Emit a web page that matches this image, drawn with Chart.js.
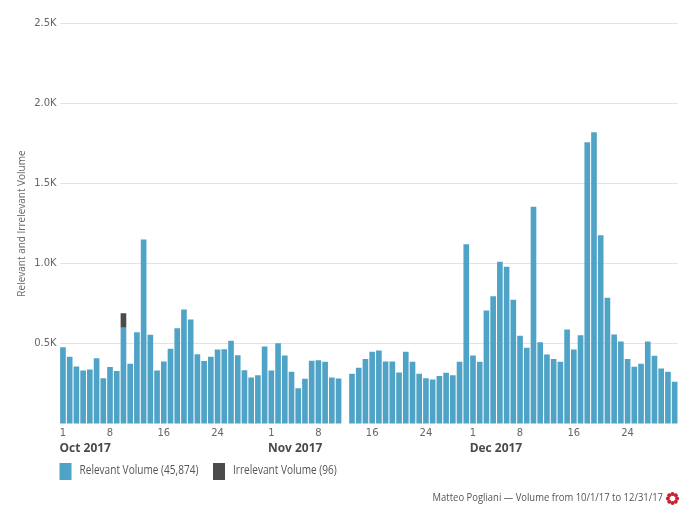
<!DOCTYPE html>
<html>
<head>
<meta charset="utf-8">
<script src="https://cdn.jsdelivr.net/npm/chart.js@4.4.1/dist/chart.umd.min.js"></script>
<style>
  html, body { margin: 0; padding: 0; background: #fff; }
  #wrap { width: 700px; height: 525px; }
</style>
</head>
<body>
<div id="wrap"><canvas id="chart"></canvas></div>
<script>
const months = ['Oct 2017', 'Nov 2017', 'Dec 2017'];
const octRelevant = [479, 419, 358, 333, 340, 410, 286, 356, 331, 600, 375, 572, 1150, 556, 333, 390,
  469, 597, 714, 651, 435, 392, 419, 464, 466, 519, 429, 335, 290, 304, 483];
// no data for Nov 12
const novRelevant = [333, 504, 427, 325, 223, 282, 394, 398, 388, 290, 284, null, 313, 350, 406, 450,
  458, 390, 390, 321, 450, 388, 313, 286, 277, 300, 319, 304, 388, 1120];
const decRelevant = [427, 388, 708, 797, 1011, 980, 774, 550, 475, 1354, 510, 433, 406, 388, 589, 464,
  554, 1757, 1819, 1177, 787, 558, 514, 406, 357, 375, 514, 425, 346, 325, 263];
const irrelevantDays = ['Oct 10'];
const irrelevantValues = [90];
const tickDays = [1, 8, 16, 24];
const legendLabels = ['Relevant Volume (45,874)', 'Irrelevant Volume (96)'];
const axisTitle = 'Relevant and Irrelevant Volume';
const footerText = 'Matteo Pogliani \u2014 Volume from 10/1/17 to 12/31/17';

const BLUE = '#4fa3c7';
const DARK = '#4b4b4b';
const GREY = '#666666';

// one category per calendar day
const labels = [];
const monthStart = [];
const relevant = [];
[octRelevant, novRelevant, decRelevant].forEach((arr, m) => {
  monthStart.push(labels.length);
  arr.forEach((v, i) => {
    labels.push(`${months[m].slice(0, 3)} ${i + 1}`);
    relevant.push(v);
  });
});
const irrelevant = labels.map((l) => {
  const k = irrelevantDays.indexOf(l);
  return k >= 0 ? irrelevantValues[k] : null;
});

// narrow text: no condensed face installed, so squeeze horizontally
function narrowText(ctx, txt, x, y, sx) {
  ctx.save();
  ctx.translate(x, y);
  ctx.scale(sx, 1);
  ctx.fillText(txt, 0, 0);
  ctx.restore();
}

const extras = {
  id: 'extras',
  afterDraw(chart) {
    const { ctx, scales: { x } } = chart;
    const half = (x.getPixelForValue(1) - x.getPixelForValue(0)) / 2;
    ctx.save();
    ctx.textBaseline = 'middle';
    ctx.textAlign = 'left';

    // month names under the day ticks
    ctx.fillStyle = '#4a4a4a';
    ctx.font = 'bold 13px "Open Sans"';
    monthStart.forEach((idx, m) => {
      narrowText(ctx, months[m], x.getPixelForValue(idx) - half, 448, 0.92);
    });

    // legend
    const colors = [BLUE, DARK];
    const swatchX = [59.5, 213];
    ctx.font = '12px "Open Sans"';
    legendLabels.forEach((txt, i) => {
      ctx.fillStyle = colors[i];
      ctx.fillRect(swatchX[i], 463, 12, 17);
      ctx.fillStyle = '#555';
      narrowText(ctx, txt, swatchX[i] + 20, 471, 0.84);
    });

    // footer + logo
    ctx.font = '11px "Open Sans"';
    ctx.textAlign = 'right';
    ctx.fillStyle = '#555';
    narrowText(ctx, footerText, 663, 498, 0.86);
    ctx.fillStyle = '#c9202f';
    for (let k = 0; k < 8; k += 1) {
      const a = (Math.PI * 2 * k) / 8;
      ctx.beginPath();
      ctx.arc(672.5 + Math.cos(a) * 4.6, 498.5 + Math.sin(a) * 4.6, 2, 0, Math.PI * 2);
      ctx.fill();
    }
    ctx.restore();
  },
};

new Chart(document.getElementById('chart'), {
  type: 'bar',
  data: {
    labels,
    datasets: [
      {
        label: legendLabels[0],
        data: relevant,
        backgroundColor: BLUE,
      },
      {
        label: legendLabels[1],
        data: irrelevant,
        backgroundColor: DARK,
      },
    ],
  },
  options: {
    responsive: true,
    maintainAspectRatio: false,
    animation: false,
    devicePixelRatio: 1,
    layout: {
      padding: { top: 23, right: 22, bottom: 81, left: 0 },
    },
    datasets: {
      bar: {
        barPercentage: 0.84,
        categoryPercentage: 1,
        borderWidth: 0,
      },
    },
    scales: {
      x: {
        stacked: true,
        afterFit(scale) { scale.height = 20; },
        grid: { display: false, drawTicks: false },
        border: { display: false },
        ticks: {
          autoSkip: false,
          maxRotation: 0,
          padding: 3,
          color: GREY,
          font: { family: 'DejaVu Sans', size: 10 },
          callback(v, i) {
            const d = Number(labels[i].split(' ')[1]);
            return tickDays.includes(d) ? String(d) : '';
          },
        },
      },
      y: {
        stacked: true,
        min: 0,
        max: 2500,
        afterFit(scale) { scale.width = 59.6; },
        border: { display: false },
        grid: {
          drawTicks: false,
          color: (c) => (c.tick && c.tick.value === 0 ? 'rgba(0,0,0,0)' : '#e3e3e3'),
        },
        ticks: {
          stepSize: 500,
          padding: 3,
          color: GREY,
          font: { family: 'DejaVu Sans', size: 10 },
          callback: (v) => (v === 0 ? '' : `${(v / 1000).toFixed(1)}K`),
        },
        title: {
          display: true,
          text: axisTitle,
          color: GREY,
          font: { family: 'Open Sans', size: 10 },
          padding: { top: 16, bottom: 0 },
        },
      },
    },
    plugins: {
      legend: { display: false },
      tooltip: { enabled: false },
    },
  },
  plugins: [extras],
});
</script>
</body>
</html>
